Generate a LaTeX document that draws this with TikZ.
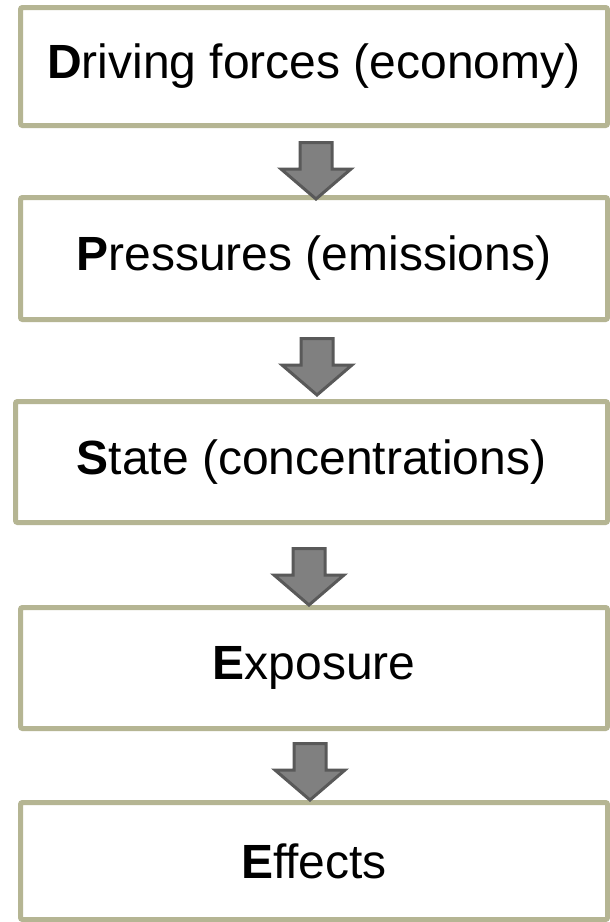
\documentclass[tikz,border=0pt]{standalone}
\usepackage{fontspec}
\setmainfont{Liberation Sans}
\definecolor{boxborder}{RGB}{181,181,147}
\definecolor{arrowfill}{RGB}{128,128,128}
\definecolor{arrowline}{RGB}{89,89,89}
\begin{document}
\begin{tikzpicture}[x=1pt,y=-1pt,
  stagebox/.style={draw=boxborder, line width=5pt, rounded corners=2pt, fill=white},
  stagetext/.style={font=\fontsize{48}{56}\selectfont, inner sep=0pt},
  arrowbody/.style={fill=arrowfill, draw=arrowline, line width=3pt, line join=miter},
  downarrow/.pic={\path[arrowbody] (-16,1.5) -- (16,1.5) -- (16,28) -- (35,28) -- (0,58) -- (-35,28) -- (-16,28) -- cycle;}
]
\useasboundingbox (0,0) rectangle (610,922);
\fill[white] (0,0) rectangle (610,922);
% boxes
\draw[stagebox] (20.5,7.5) rectangle (607.5,125.5);
\coordinate (b1) at (314,66.5);
\draw[stagebox] (20.5,197.5) rectangle (607.5,319.5);
\coordinate (b2) at (314,258.5);
\draw[stagebox] (15.5,401.5) rectangle (607.5,522.5);
\coordinate (b3) at (311.5,462);
\draw[stagebox] (20.5,607.5) rectangle (607.5,728.5);
\coordinate (b4) at (314,668);
\draw[stagebox] (20.5,802.5) rectangle (607.5,919.5);
\coordinate (b5) at (314,861);
% texts
\node[stagetext] (t1) at (b1) {\textbf{D}riving forces (economy)};
\node[stagetext] (t2) at (b2) {\textbf{P}ressures (emissions)};
\node[stagetext] (t3) at (b3) {\textbf{S}tate (concentrations)};
\node[stagetext] (t4) at (b4) {\textbf{E}xposure};
\node[stagetext] (t5) at (b5) {\textbf{E}ffects};
% arrows
\pic at (316,141) {downarrow};
\pic at (317,337) {downarrow};
\pic at (309,547) {downarrow};
\pic at (310,742) {downarrow};
\end{tikzpicture}
\end{document}
